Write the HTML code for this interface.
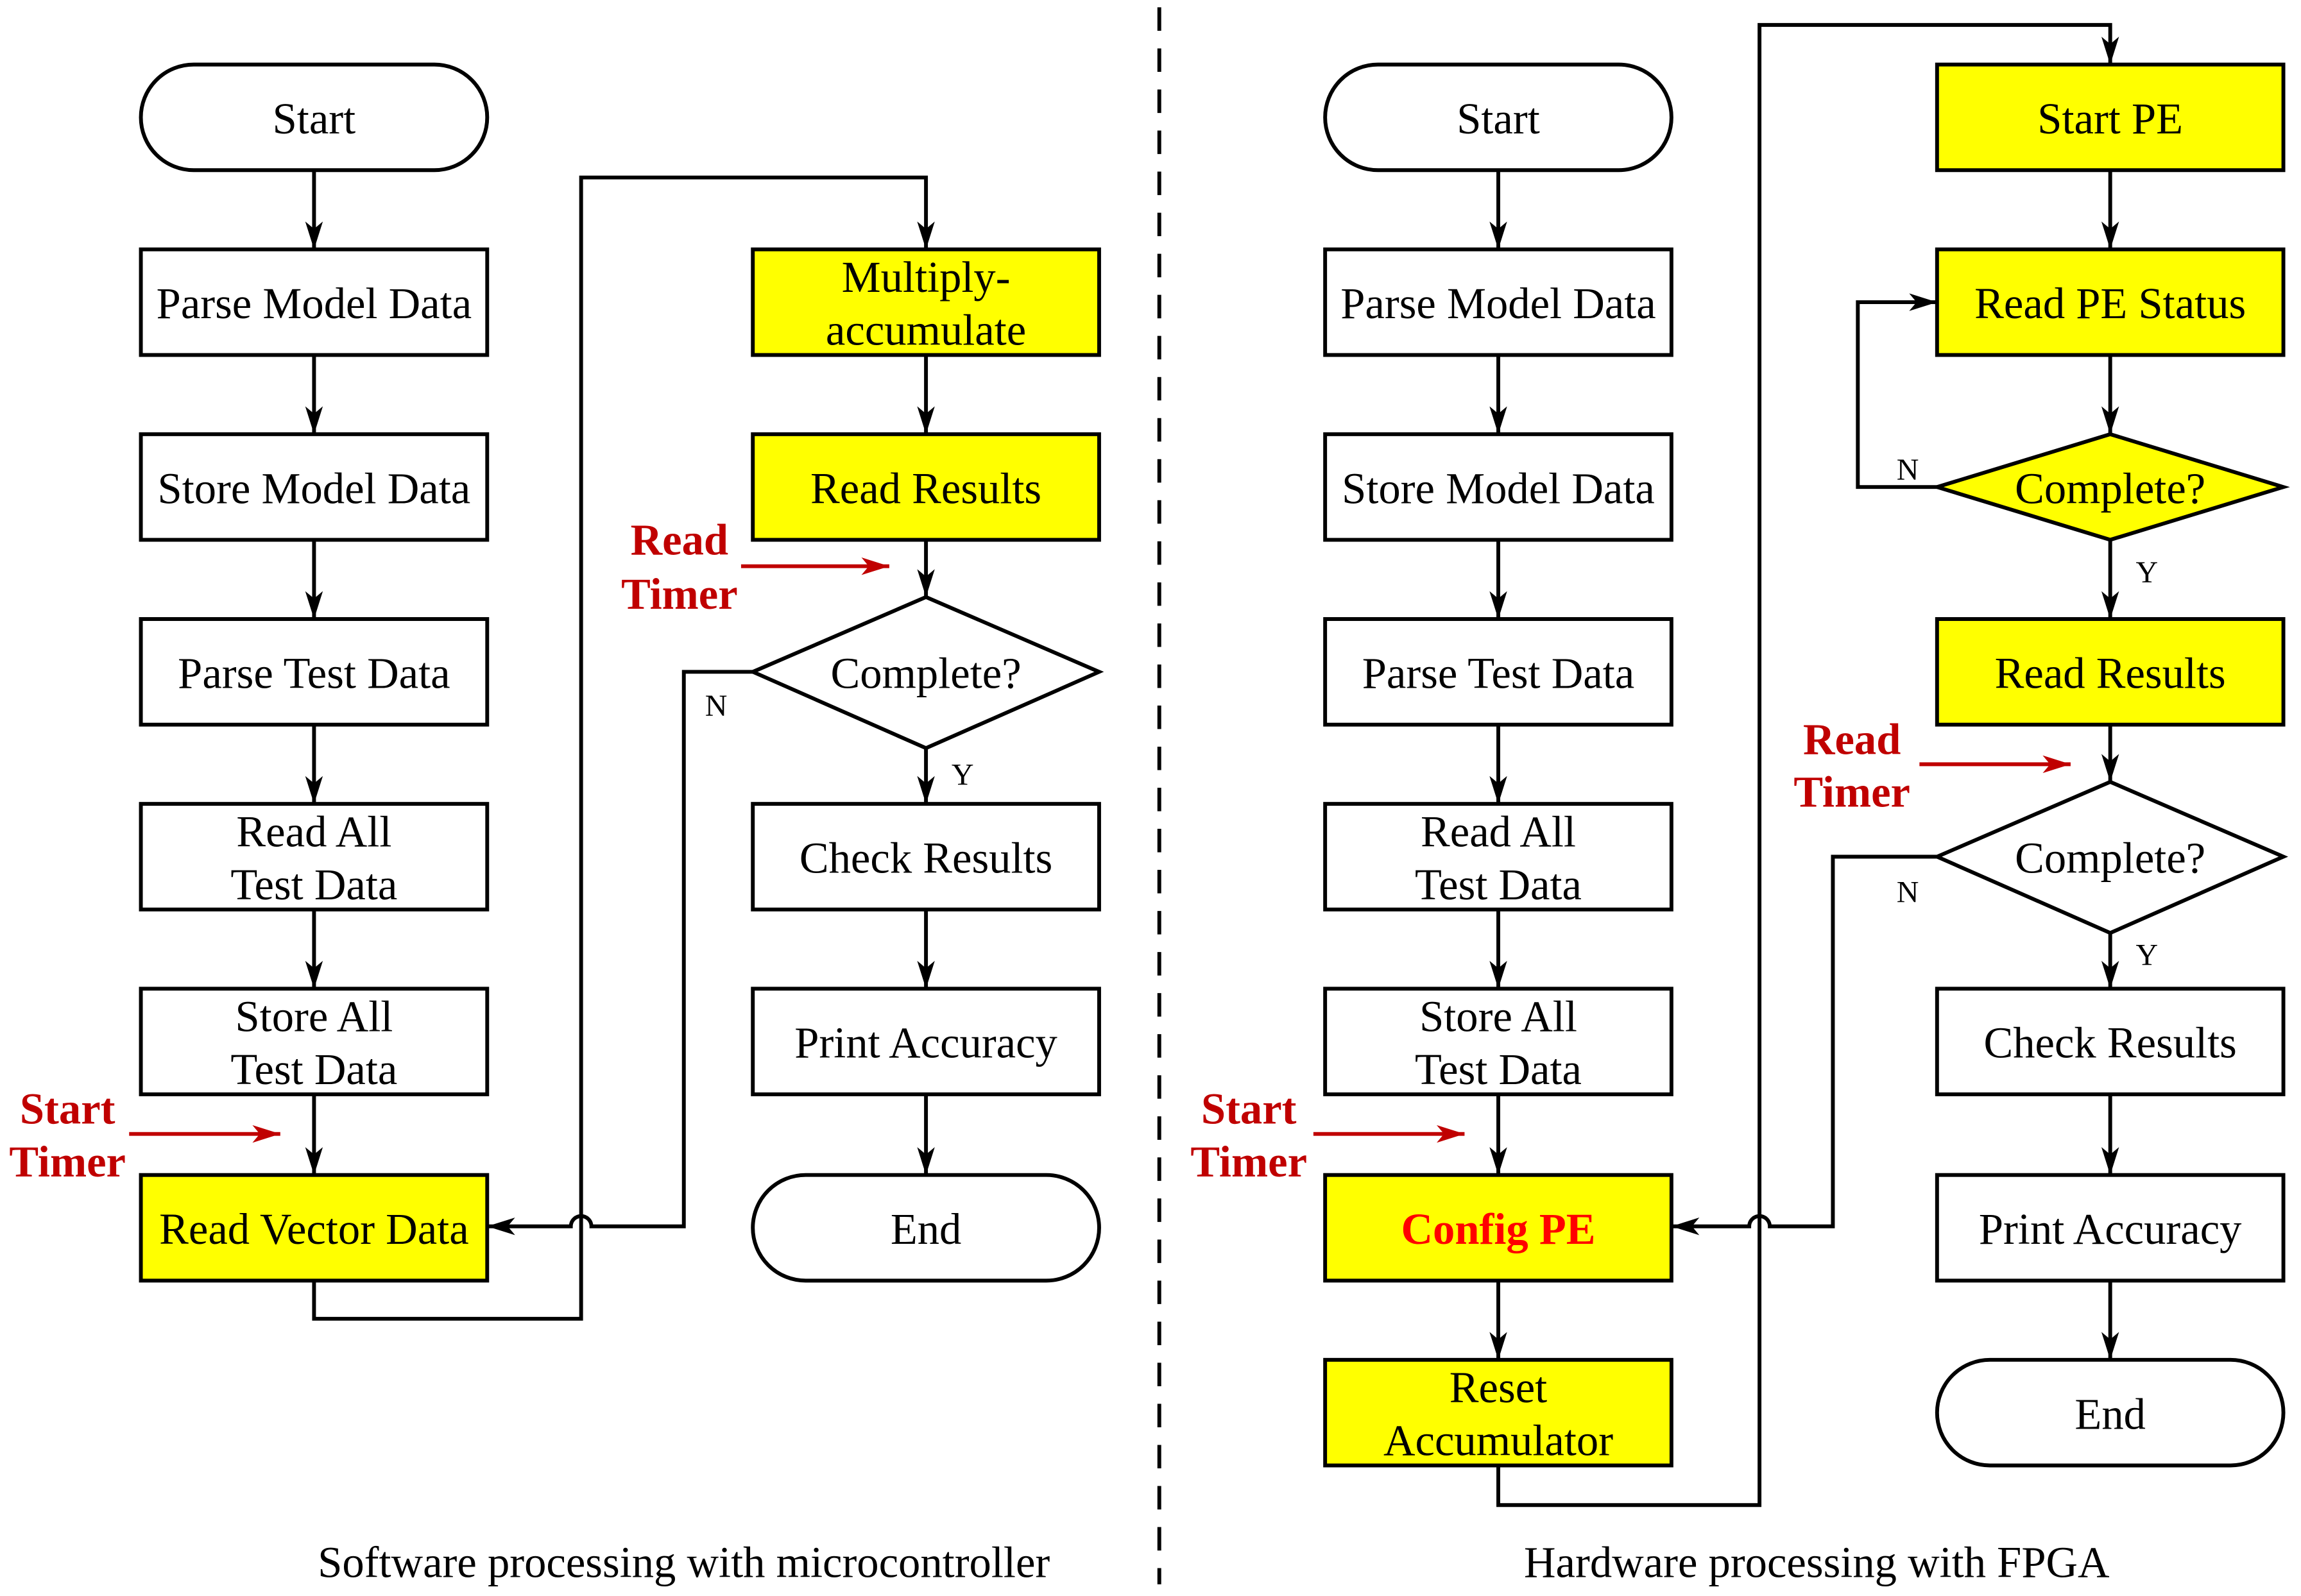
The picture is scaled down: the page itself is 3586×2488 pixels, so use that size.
<!DOCTYPE html>
<html><head><meta charset="utf-8"><style>
html,body{margin:0;padding:0;background:#fff;}
svg{display:block;}
text{font-family:"Liberation Serif",serif;font-size:30px;text-anchor:middle;}
.r{fill:#c00000;font-weight:bold;}
.s{font-size:21px;}
</style></head><body>
<svg width="3586" height="2488" viewBox="0 0 1568 1088" preserveAspectRatio="none" xmlns="http://www.w3.org/2000/svg">
<defs>
<marker id="a" markerWidth="19" markerHeight="12" refX="19" refY="6" orient="auto" markerUnits="userSpaceOnUse">
<path d="M0,0 L19,6 L0,12 L5,6 Z" fill="#000"/></marker>
<marker id="ar" markerWidth="19" markerHeight="12" refX="19" refY="6" orient="auto" markerUnits="userSpaceOnUse">
<path d="M0,0 L19,6 L0,12 L5,6 Z" fill="#c00000"/></marker>
</defs>
<g stroke="#000" stroke-width="2.6" fill="none">
<rect x="96" y="44" width="236" height="72" rx="36" fill="#fff"/>
<rect x="96" y="170" width="236" height="72" fill="#fff"/>
<rect x="96" y="296" width="236" height="72" fill="#fff"/>
<rect x="96" y="422" width="236" height="72" fill="#fff"/>
<rect x="96" y="548" width="236" height="72" fill="#fff"/>
<rect x="96" y="674" width="236" height="72" fill="#fff"/>
<rect x="96" y="801" width="236" height="72" fill="#ffff00"/>
<line x1="214" y1="116" x2="214" y2="170" marker-end="url(#a)"/>
<line x1="214" y1="242" x2="214" y2="296" marker-end="url(#a)"/>
<line x1="214" y1="368" x2="214" y2="422" marker-end="url(#a)"/>
<line x1="214" y1="494" x2="214" y2="548" marker-end="url(#a)"/>
<line x1="214" y1="620" x2="214" y2="674" marker-end="url(#a)"/>
<line x1="214" y1="746" x2="214" y2="801" marker-end="url(#a)"/>
<rect x="513" y="170" width="236" height="72" fill="#ffff00"/>
<rect x="513" y="296" width="236" height="72" fill="#ffff00"/>
<polygon points="631,407 749,458 631,510 513,458" fill="#fff"/>
<rect x="513" y="548" width="236" height="72" fill="#fff"/>
<rect x="513" y="674" width="236" height="72" fill="#fff"/>
<rect x="513" y="801" width="236" height="72" rx="36" fill="#fff"/>
<line x1="631" y1="242" x2="631" y2="296" marker-end="url(#a)"/>
<line x1="631" y1="368" x2="631" y2="407" marker-end="url(#a)"/>
<line x1="631" y1="510" x2="631" y2="548" marker-end="url(#a)"/>
<line x1="631" y1="620" x2="631" y2="674" marker-end="url(#a)"/>
<line x1="631" y1="746" x2="631" y2="801" marker-end="url(#a)"/>
<polyline points="214,873 214,899 396,899 396,121 631,121 631,170" marker-end="url(#a)"/>
<path d="M513,458 L466,458 L466,836 L403,836 A7,7 0 0 0 389,836 L332,836" marker-end="url(#a)"/>
<rect x="903" y="44" width="236" height="72" rx="36" fill="#fff"/>
<rect x="903" y="170" width="236" height="72" fill="#fff"/>
<rect x="903" y="296" width="236" height="72" fill="#fff"/>
<rect x="903" y="422" width="236" height="72" fill="#fff"/>
<rect x="903" y="548" width="236" height="72" fill="#fff"/>
<rect x="903" y="674" width="236" height="72" fill="#fff"/>
<rect x="903" y="801" width="236" height="72" fill="#ffff00"/>
<rect x="903" y="927" width="236" height="72" fill="#ffff00"/>
<line x1="1021" y1="116" x2="1021" y2="170" marker-end="url(#a)"/>
<line x1="1021" y1="242" x2="1021" y2="296" marker-end="url(#a)"/>
<line x1="1021" y1="368" x2="1021" y2="422" marker-end="url(#a)"/>
<line x1="1021" y1="494" x2="1021" y2="548" marker-end="url(#a)"/>
<line x1="1021" y1="620" x2="1021" y2="674" marker-end="url(#a)"/>
<line x1="1021" y1="746" x2="1021" y2="801" marker-end="url(#a)"/>
<line x1="1021" y1="873" x2="1021" y2="927" marker-end="url(#a)"/>
<polyline points="1021,999 1021,1026 1199,1026 1199,17 1438,17 1438,44" marker-end="url(#a)"/>
<rect x="1320" y="44" width="236" height="72" fill="#ffff00"/>
<rect x="1320" y="170" width="236" height="72" fill="#ffff00"/>
<polygon points="1438,296 1556,332 1438,368 1320,332" fill="#ffff00"/>
<rect x="1320" y="422" width="236" height="72" fill="#ffff00"/>
<polygon points="1438,533 1556,584 1438,636 1320,584" fill="#fff"/>
<rect x="1320" y="674" width="236" height="72" fill="#fff"/>
<rect x="1320" y="801" width="236" height="72" fill="#fff"/>
<rect x="1320" y="927" width="236" height="72" rx="36" fill="#fff"/>
<line x1="1438" y1="116" x2="1438" y2="170" marker-end="url(#a)"/>
<line x1="1438" y1="242" x2="1438" y2="296" marker-end="url(#a)"/>
<line x1="1438" y1="368" x2="1438" y2="422" marker-end="url(#a)"/>
<line x1="1438" y1="494" x2="1438" y2="533" marker-end="url(#a)"/>
<line x1="1438" y1="636" x2="1438" y2="674" marker-end="url(#a)"/>
<line x1="1438" y1="746" x2="1438" y2="801" marker-end="url(#a)"/>
<line x1="1438" y1="873" x2="1438" y2="927" marker-end="url(#a)"/>
<polyline points="1320,332 1266,332 1266,206 1320,206" marker-end="url(#a)"/>
<path d="M1320,584 L1249,584 L1249,836 L1206,836 A7,7 0 0 0 1192,836 L1139,836" marker-end="url(#a)"/>
<line x1="790" y1="5" x2="790" y2="1080" stroke-dasharray="16,12"/>
</g>
<g stroke="#c00000" stroke-width="2.6">
<line x1="505" y1="386" x2="606" y2="386" marker-end="url(#ar)"/>
<line x1="88" y1="773" x2="191" y2="773" marker-end="url(#ar)"/>
<line x1="895" y1="773" x2="998" y2="773" marker-end="url(#ar)"/>
<line x1="1308" y1="521" x2="1411" y2="521" marker-end="url(#ar)"/>
</g>
<g>
<text x="214" y="91">Start</text>
<text x="214" y="217">Parse Model Data</text>
<text x="214" y="343">Store Model Data</text>
<text x="214" y="469">Parse Test Data</text>
<text x="214" y="577">Read All</text><text x="214" y="613">Test Data</text>
<text x="214" y="703">Store All</text><text x="214" y="739">Test Data</text>
<text x="214" y="848">Read Vector Data</text>
<text x="631" y="199">Multiply-</text><text x="631" y="235">accumulate</text>
<text x="631" y="343">Read Results</text>
<text x="631" y="469">Complete?</text>
<text x="631" y="595">Check Results</text>
<text x="631" y="721">Print Accuracy</text>
<text x="631" y="848">End</text>
<text class="s" x="488" y="488">N</text>
<text class="s" x="656" y="535">Y</text>
<text class="r" x="463" y="378">Read</text><text class="r" x="463" y="415">Timer</text>
<text class="r" x="46" y="766">Start</text><text class="r" x="46" y="802">Timer</text>

<text x="1021" y="91">Start</text>
<text x="1021" y="217">Parse Model Data</text>
<text x="1021" y="343">Store Model Data</text>
<text x="1021" y="469">Parse Test Data</text>
<text x="1021" y="577">Read All</text><text x="1021" y="613">Test Data</text>
<text x="1021" y="703">Store All</text><text x="1021" y="739">Test Data</text>
<text x="1021" y="848" class="r" style="fill:#ff0000">Config PE</text>
<text x="1021" y="956">Reset</text><text x="1021" y="992">Accumulator</text>
<text x="1438" y="91">Start PE</text>
<text x="1438" y="217">Read PE Status</text>
<text x="1438" y="343">Complete?</text>
<text x="1438" y="469">Read Results</text>
<text x="1438" y="595">Complete?</text>
<text x="1438" y="721">Check Results</text>
<text x="1438" y="848">Print Accuracy</text>
<text x="1438" y="974">End</text>
<text class="s" x="1300" y="327">N</text>
<text class="s" x="1463" y="397">Y</text>
<text class="s" x="1300" y="615">N</text>
<text class="s" x="1463" y="658">Y</text>
<text class="r" x="1262" y="514">Read</text><text class="r" x="1262" y="550">Timer</text>
<text class="r" x="851" y="766">Start</text><text class="r" x="851" y="802">Timer</text>

<text x="466" y="1075">Software processing with microcontroller</text>
<text x="1238" y="1075">Hardware processing with FPGA</text>
</g>
</svg>
</body></html>
